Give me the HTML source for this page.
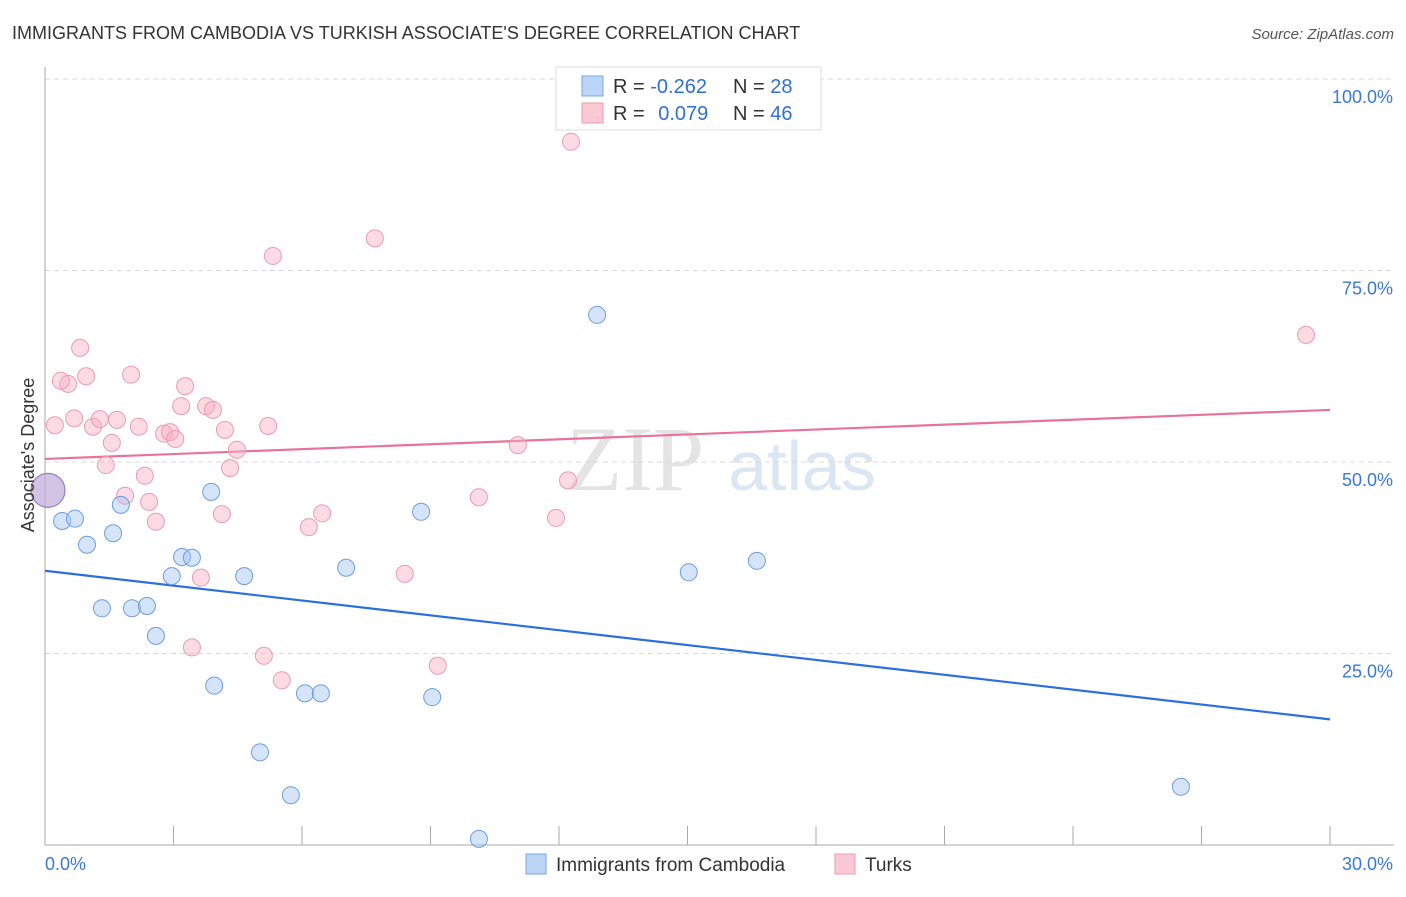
<!DOCTYPE html>
<html><head><meta charset="utf-8"><style>
body{margin:0;background:#fff;font-family:"Liberation Sans",sans-serif;}
svg text{font-family:"Liberation Sans",sans-serif;}
</style></head><body>
<svg id="chart" width="1406" height="892" viewBox="0 0 1406 892" xmlns="http://www.w3.org/2000/svg">
<text x="12" y="39" font-size="18" fill="#333">IMMIGRANTS FROM CAMBODIA VS TURKISH ASSOCIATE'S DEGREE CORRELATION CHART</text>
<text x="1394" y="39" font-size="15" fill="#555" text-anchor="end" font-style="italic">Source: ZipAtlas.com</text>
<g>
<text x="635" y="490" font-size="92" fill="#e4e4e4" text-anchor="middle" font-family="Liberation Serif" style="font-family:'Liberation Serif',serif">ZIP</text>
<text x="802" y="490" font-size="70" fill="#dbe6f5" text-anchor="middle">atlas</text>
</g>
<g id="grid"></g>
<g id="axes"></g>
<g id="trends"></g>
<g id="points"></g>
<text x="34" y="455" font-size="18" fill="#333" text-anchor="middle" transform="rotate(-90 34 455)">Associate's Degree</text>
<g>
<rect x="556" y="67" width="265" height="63" fill="#fff" stroke="#ddd"/>
<rect x="582" y="76" width="21" height="20" fill="#bcd4f6" stroke="#7aa6e6"/>
<rect x="582" y="103" width="21" height="20" fill="#fbc8d6" stroke="#eb9ab2"/>
<text x="613" y="93" font-size="20" fill="#333">R = <tspan fill="#2f6fd6">-0.262</tspan></text>
<text x="733" y="93" font-size="20" fill="#333">N = <tspan fill="#2f6fd6">28</tspan></text>
<text x="613" y="120" font-size="20" fill="#333">R = <tspan fill="#2f6fd6" dx="8">0.079</tspan></text>
<text x="733" y="120" font-size="20" fill="#333">N = <tspan fill="#2f6fd6">46</tspan></text>
</g>
<g>
<rect x="526" y="854" width="20" height="20" fill="#bcd4f6" stroke="#7aa6e6"/>
<text x="556" y="871" font-size="19" fill="#333">Immigrants from Cambodia</text>
<rect x="835" y="854" width="20" height="20" fill="#fbc8d6" stroke="#eb9ab2"/>
<text x="865" y="871" font-size="19" fill="#333">Turks</text>
</g>
</svg>
<script>
const blueX=[0.40,0.70,0.98,1.33,1.59,1.77,2.03,2.38,2.59,2.96,3.20,3.43,3.88,3.95,4.65,5.02,5.74,6.07,6.44,7.03,8.78,9.04,10.13,12.89,15.03,16.62,26.52];
const blueY=[42.3,42.6,39.2,30.9,40.7,44.4,30.9,31.2,27.3,35.1,37.6,37.5,46.1,20.8,35.1,12.1,6.5,19.8,19.8,36.2,43.5,19.3,0.8,69.2,35.6,37.1,7.6];
const pinkX=[0.23,0.54,0.37,0.68,0.82,0.96,1.12,1.28,1.42,1.56,1.68,1.87,2.01,2.19,2.33,2.43,2.59,2.78,2.92,3.04,3.18,3.27,3.43,3.64,3.76,3.92,4.13,4.20,4.32,4.48,5.11,5.21,5.32,5.53,6.16,6.47,7.70,8.40,9.17,10.13,11.04,11.93,12.21,12.28,29.44];
const pinkY=[54.8,60.2,60.6,55.7,64.9,61.2,54.6,55.6,49.6,52.5,55.5,45.6,61.4,54.6,48.2,44.8,42.2,53.7,53.9,53.0,57.3,59.9,25.8,34.9,57.3,56.8,43.2,54.2,49.2,51.6,24.7,54.7,76.9,21.5,41.5,43.3,79.2,35.4,23.4,45.4,52.2,42.7,47.6,91.8,66.6];
const bigX=[0.07], bigY=[46.3];
const blueTrend=[35.8,16.4];
const pinkTrend=[50.4,56.8];
const yTicks=[25,50,75,100];
const yTickLabels=["25.0%","50.0%","75.0%","100.0%"];
const xTickCount=10;
const NS="http://www.w3.org/2000/svg";
const X0=45,X1=1330,Y0=845,Y100=79;
const sx=v=>X0+(v/30)*(X1-X0);
const sy=v=>Y0-(v/100)*(Y0-Y100);
function mk(tag,attrs,parent){const e=document.createElementNS(NS,tag);for(const k in attrs)e.setAttribute(k,attrs[k]);document.getElementById(parent).appendChild(e);return e;}
yTicks.forEach((t,i)=>{
 const l=mk('line',{x1:X0,x2:1394,y1:sy(t),y2:sy(t),stroke:'#d8d8d8','stroke-dasharray':'5,4'},'grid');
 
 
 const tx=mk('text',{x:1393,y:sy(t)+24,'font-size':18,fill:'#3a78d8','text-anchor':'end'},'grid');
 tx.textContent=yTickLabels[i];
 
 
});
const ay=mk('line',{x1:X0,x2:X0,y1:67,y2:Y0,stroke:'#aaa'},'axes');


const ax=mk('line',{x1:X0,x2:1394,y1:Y0,y2:Y0,stroke:'#aaa'},'axes');


for(let i=1;i<=xTickCount;i++){
 const x=sx(i*3);
 const tk=mk('line',{x1:x,x2:x,y1:826,y2:Y0,stroke:'#aaa'},'axes');
 
 
}
const xl=mk('text',{x:45,y:870,'font-size':18,fill:'#3a78d8'},'axes');xl.textContent='0.0%';


const xr=mk('text',{x:1393,y:870,'font-size':18,fill:'#3a78d8','text-anchor':'end'},'axes');xr.textContent='30.0%';


const tb=mk('line',{x1:sx(0),x2:sx(30),y1:sy(blueTrend[0]),y2:sy(blueTrend[1]),stroke:'#2a6fdb','stroke-width':2.2},'trends');


const tp=mk('line',{x1:sx(0),x2:sx(30),y1:sy(pinkTrend[0]),y2:sy(pinkTrend[1]),stroke:'#e8739a','stroke-width':2.2},'trends');


pinkX.forEach((v,i)=>{
 const c=mk('circle',{cx:sx(v),cy:sy(pinkY[i]),r:8.5,fill:'rgba(248,176,198,0.45)',stroke:'#eb9ab2','stroke-width':1},'points');
 
 
});
blueX.forEach((v,i)=>{
 const c=mk('circle',{cx:sx(v),cy:sy(blueY[i]),r:8.5,fill:'rgba(164,196,244,0.45)',stroke:'#6a9ee0','stroke-width':1},'points');
 
 
});
bigX.forEach((v,i)=>{
 const c=mk('circle',{cx:sx(v),cy:sy(bigY[i]),r:17,fill:'rgba(190,170,215,0.7)',stroke:'#9a7cc0','stroke-width':1.2},'points');
 
 
});
</script>
</body></html>
